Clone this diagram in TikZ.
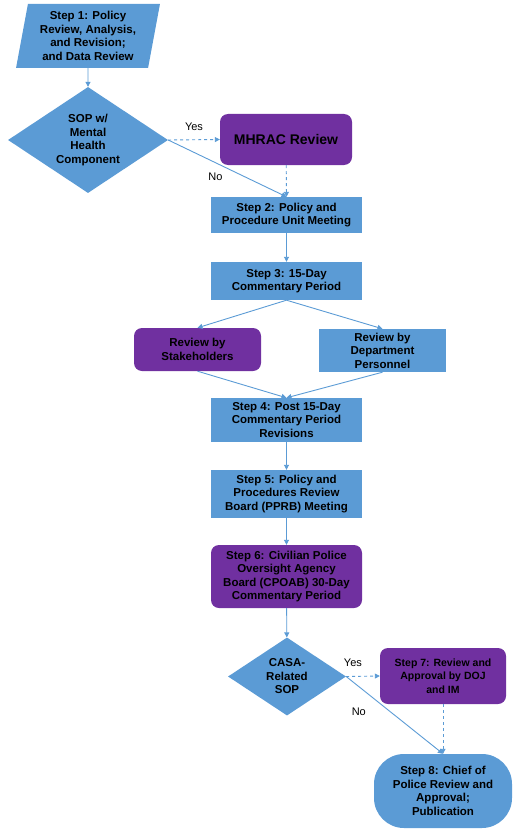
\documentclass[tikz,border=0pt]{standalone}
\usepackage{fontspec}
\setmainfont{Liberation Sans}
\usetikzlibrary{shapes.geometric,arrows.meta}
\definecolor{stepblue}{RGB}{91,155,213}
\definecolor{boardpurple}{RGB}{112,48,160}

\begin{document}
\begin{tikzpicture}[x=1pt, y=-1pt,
  >={Triangle[length=5pt,width=5pt]},
  every node/.style={font=\fontsize{11.5}{13.5}\selectfont\bfseries, align=center, inner sep=0pt},
  stepbox/.style={rectangle, fill=stepblue, minimum width=151pt},
  boardbox/.style={rectangle, rounded corners=8pt, fill=boardpurple},
  decision/.style={diamond, fill=stepblue, aspect=1.5},
  link/.style={draw=stepblue, line width=0.9pt, ->},
  maybe/.style={link, dashed},
  answer/.style={font=\fontsize{11}{13}\selectfont, inner sep=1pt}]
\useasboundingbox (0,0) rectangle (516,832);

% Policy review flow
\node[trapezium, trapezium left angle=79, trapezium right angle=101, trapezium stretches=true,
  fill=stepblue, minimum width=144pt, minimum height=64pt] (step1) at (88,36)
  {Step 1: Policy\\Review, Analysis,\\and Revision;\\and Data Review};

\node[decision, minimum width=160pt, minimum height=106pt] (mental) at (88,140)
  {SOP w/\\Mental\\Health\\Component};
\draw[link] (step1) -- (mental);

\node[boardbox, minimum width=132pt, minimum height=51pt, font=\fontsize{14}{16}\selectfont\bfseries]
  (mhrac) at (286,139.5) {MHRAC Review};

\node[stepbox, minimum height=36pt] (step2) at (286.5,215)
  {Step 2: Policy and\\Procedure Unit Meeting};

\draw[maybe] (mental.east) -- (mhrac.west) node[answer, midway, above=8pt] {Yes};
\draw[link] (mental.east) -- (step2.north) node[answer, pos=0.4, below=9pt] {No};
\draw[maybe] (mhrac) -- (step2.north);

\node[stepbox, minimum height=38pt] (step3) at (286.5,281)
  {Step 3: 15-Day\\Commentary Period};
\draw[link] (step2) -- (step3);

\node[boardbox, minimum width=127pt, minimum height=43pt] (stake) at (197.5,349.5)
  {Review by\\Stakeholders};
\node[stepbox, minimum width=127pt, minimum height=43pt] (dept) at (382.5,350.5)
  {Review by\\Department\\Personnel};
\draw[link] (step3.south) -- (stake.north);
\draw[link] (step3.south) -- (dept.north);

\node[stepbox, minimum height=44pt] (step4) at (286.5,420)
  {Step 4: Post 15-Day\\Commentary Period\\Revisions};
\draw[link] (stake.south) -- (step4.north);
\draw[link] (dept.south) -- (step4.north);

\node[stepbox, minimum height=48pt] (step5) at (286.5,494)
  {Step 5: Policy and\\Procedures Review\\Board (PPRB) Meeting};
\draw[link] (step4) -- (step5);

\node[boardbox, minimum width=151pt, minimum height=63pt] (step6) at (286.5,576.5)
  {Step 6: Civilian Police\\Oversight Agency\\Board (CPOAB) 30-Day\\Commentary Period};
\draw[link] (step5) -- (step6);

\node[decision, minimum width=118pt, minimum height=78pt] (casa) at (287,676.5)
  {CASA-\\Related\\SOP};
\draw[link] (step6) -- (casa);

\node[boardbox, minimum width=126pt, minimum height=56pt, font=\fontsize{10.5}{13.3}\selectfont\bfseries]
  (step7) at (443,676) {Step 7: Review and\\Approval by DOJ\\and IM};

\node[rectangle, rounded corners=30pt, fill=stepblue, minimum width=138pt, minimum height=74pt]
  (step8) at (443,791) {Step 8: Chief of\\Police Review and\\Approval;\\Publication};

\draw[maybe] (casa.east) -- (step7.west) node[answer, pos=0.2, above=8pt] {Yes};
\draw[link] (casa.east) -- (step8.north) node[answer, pos=0.13, below=20pt] {No};
\draw[maybe] (step7) -- (step8.north);
\end{tikzpicture}
\end{document}
